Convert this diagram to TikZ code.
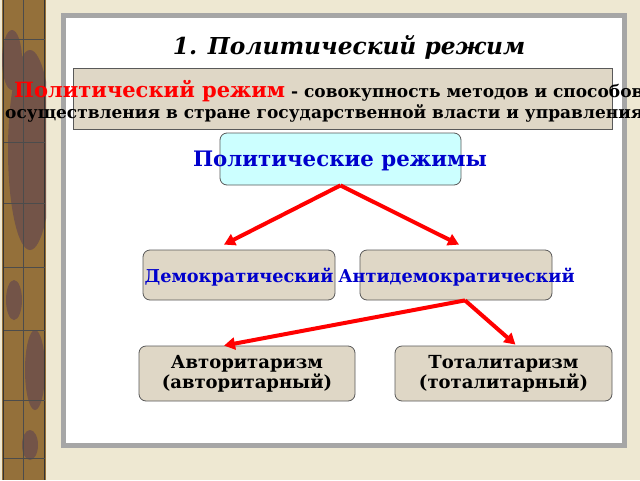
\documentclass[tikz,border=0pt]{standalone}
\usepackage{fontspec}
\setmainfont{DejaVu Serif}
\usetikzlibrary{calc,arrows.meta}
\definecolor{parchment}{HTML}{EEE8D2}
\definecolor{boxbeige}{HTML}{DFD7C6}
\definecolor{boxcyan}{HTML}{CCFFFF}
\definecolor{framegray}{HTML}{A6A6A6}
\definecolor{stripbrown}{HTML}{94703A}
\definecolor{stripdark}{HTML}{735448}
\definecolor{regblue}{HTML}{0000CC}

\begin{document}
\begin{tikzpicture}[x=1pt,y=-1pt,
  regbox/.style={draw=black!65, line width=0.8pt, rounded corners=7pt, fill=boxbeige, inner sep=0pt},
  regarrow/.style={-{Triangle[length=11pt,width=12pt]}, line width=4pt, red},
  bluetext/.style={text=regblue, font=\bfseries\fontsize{17.7}{20}\selectfont},
  blacktext/.style={align=center, font=\bfseries\fontsize{18}{20}\selectfont}]
  \useasboundingbox (0,0) rectangle (640,480);
  \fill[parchment] (0,0) rectangle (640,480);
  % left strip
  \begin{scope}
    \clip (2,0) rectangle (46,480);
    \fill[stripbrown] (2,0) rectangle (46,480);
    \fill[stripdark] (30,150) ellipse (22 and 100);
    \fill[stripdark] (12,60) ellipse (10 and 30);
    \fill[stripdark] (35,370) ellipse (10 and 40);
    \fill[stripdark] (14,300) ellipse (8 and 20);
    \fill[stripdark] (30,445) ellipse (8 and 15);
  \end{scope}
  \draw[black!80, line width=0.8pt] (3.5,0) -- (3.5,480) (44.5,0) -- (44.5,480);
  \draw[black!70, line width=0.6pt] (23,0) -- (23,480);
  \foreach \y in {39,142,203,267,330,400,458}
    \draw[black!70, line width=0.6pt] (3.5,\y) -- (44.5,\y);
  % frame
  \draw[framegray, line width=5pt, fill=white] (63.5,15.5) rectangle (624.5,445.5);
  \node[font=\bfseries\itshape\fontsize{23.3}{27}\selectfont] (title) at (349,47) {1. Политический режим};
  % definition
  \node[draw=black!65, line width=0.8pt, fill=boxbeige, minimum width=539, minimum height=61] (def) at (342.5,98.5) {};
  \node[anchor=base west, inner sep=0pt, font=\bfseries\fontsize{17}{20}\selectfont] (defa) at (14,97)
    {\textcolor{red}{\fontsize{21}{24}\selectfont Политический режим} - совокупность методов и способов};
  \node[anchor=base west, inner sep=0pt, font=\bfseries\fontsize{17}{20}\selectfont] (defb) at (5,118)
    {осуществления в стране государственной власти и управления};
  % boxes
  \node[regbox, fill=boxcyan, minimum width=241, minimum height=52] (regimes) at (340.5,159) {};
  \node[bluetext, font=\bfseries\fontsize{21.3}{24}\selectfont] (regimestext) at (340,161) {Политические режимы};
  \node[regbox, minimum width=192, minimum height=50] (demo) at (239,275) {};
  \node[bluetext] (demotext) at (239,277) {Демократический};
  \node[regbox, minimum width=192, minimum height=50] (antidemo) at (456,275) {};
  \node[bluetext] (antidemotext) at (456.5,277) {Антидемократический};
  \node[regbox, minimum width=216, minimum height=55] (auth) at (247,373.5) {};
  \node[blacktext] (authtext) at (247,374) {Авторитаризм\\(авторитарный)};
  \node[regbox, minimum width=217, minimum height=55] (total) at (503.5,373.5) {};
  \node[blacktext] (totaltext) at (503.5,374) {Тоталитаризм\\(тоталитарный)};
  % arrows
  \draw[regarrow] (regimes.south) -- ($(demo.north)+(-15,-5)$);
  \draw[regarrow] (regimes.south) -- ($(antidemo.north)+(3,-5)$);
  \draw[regarrow] ($(antidemo.south)+(9,0)$) -- ($(auth.north)+(-23,0)$);
  \draw[regarrow] ($(antidemo.south)+(9,0)$) -- ($(total.north)+(12,-1)$);
\end{tikzpicture}
\end{document}
